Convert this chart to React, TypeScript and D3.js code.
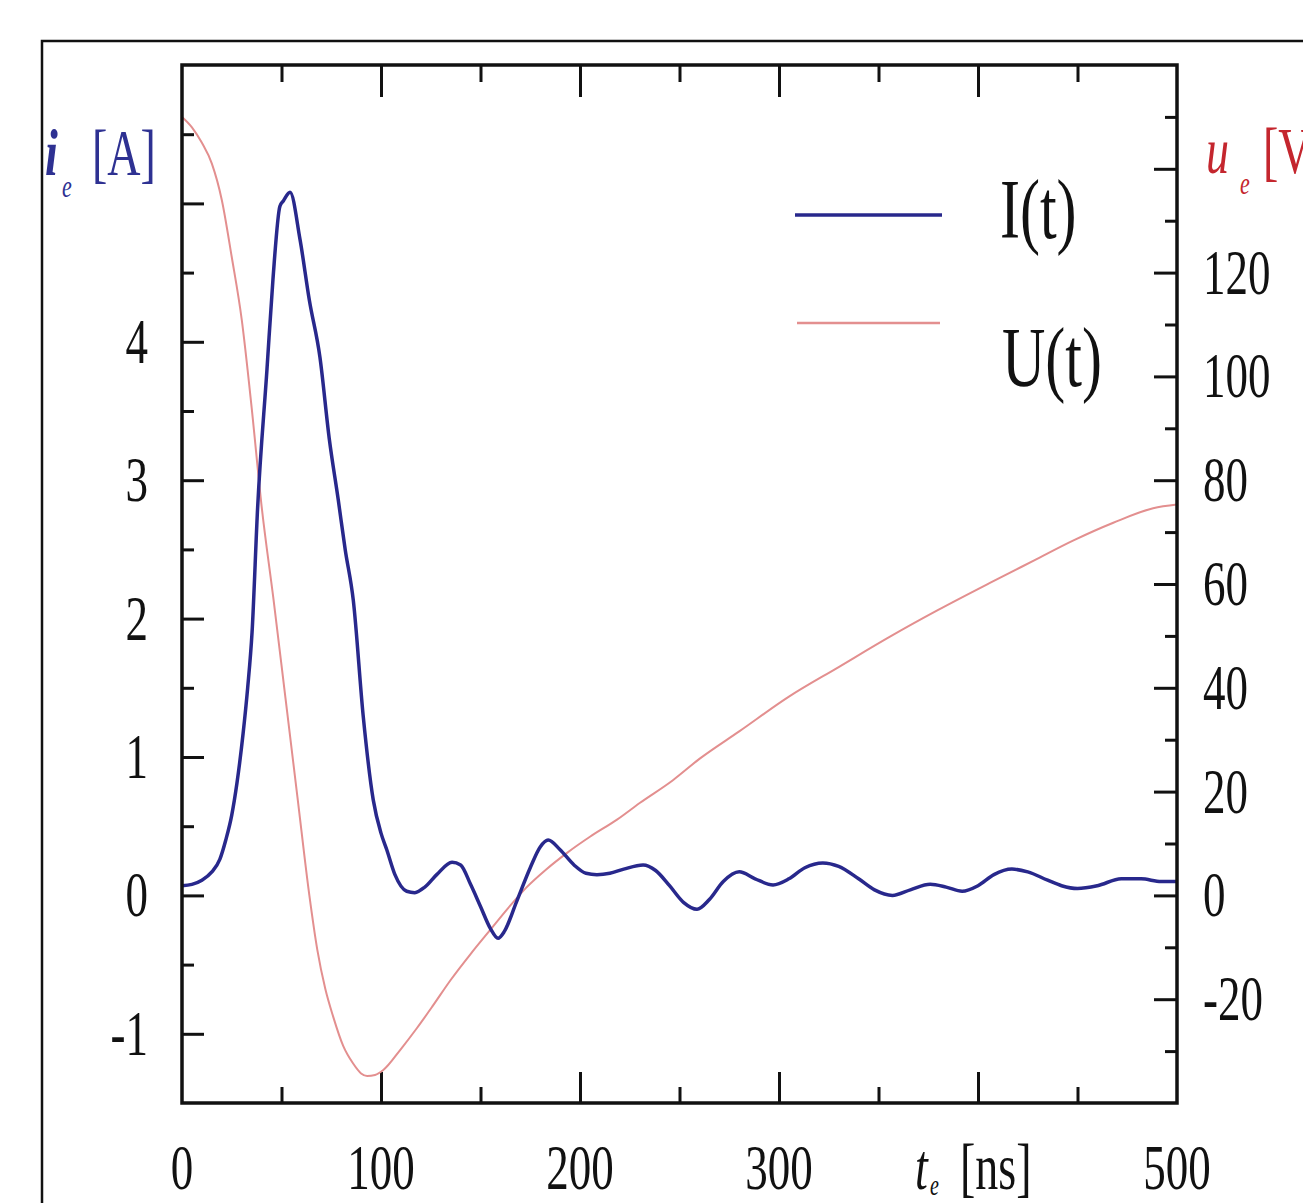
import * as d3 from 'd3';
import { useEffect, useRef } from 'react';

// current I(t) [A] vs time [ns]
const currentT = [0, 5, 10, 15, 19, 22, 25, 27.6, 30.7, 33, 35.2, 38, 42.7, 45.7, 49.2, 51, 54.3, 59.3, 64, 69.3, 74, 78.5, 82, 86.1, 91.1, 96.1, 100, 102.9, 107, 112.9, 117, 122, 128, 135.7, 140, 145, 150, 155, 158.8, 162, 168, 175, 180, 184, 190, 197, 203, 208.5, 215, 222, 231.7, 238, 245, 252, 258.8, 265, 272, 280, 288, 297, 305, 313, 322, 330, 340, 348, 357, 366, 376, 384, 392, 400, 408, 417, 425, 435, 442, 450, 460, 472, 482, 492, 500];
const currentI = [0.07, 0.08, 0.11, 0.17, 0.26, 0.4, 0.58, 0.81, 1.17, 1.5, 1.9, 2.8, 3.8, 4.45, 4.98, 5.02, 5.08, 4.74, 4.3, 3.89, 3.3, 2.86, 2.5, 2.13, 1.29, 0.69, 0.45, 0.33, 0.15, 0.03, 0.02, 0.06, 0.15, 0.24, 0.22, 0.08, -0.08, -0.24, -0.31, -0.26, -0.05, 0.2, 0.35, 0.4, 0.33, 0.22, 0.16, 0.15, 0.16, 0.19, 0.22, 0.18, 0.07, -0.05, -0.1, -0.03, 0.1, 0.17, 0.12, 0.076, 0.12, 0.2, 0.235, 0.21, 0.12, 0.04, 0.0, 0.04, 0.08, 0.06, 0.03, 0.07, 0.15, 0.19, 0.17, 0.11, 0.07, 0.05, 0.07, 0.12, 0.12, 0.1, 0.1];

// voltage U(t) [V] vs time [ns]
const voltageT = [0, 5, 10, 15, 20, 25, 30, 35, 40, 46, 52, 58, 64, 68, 72, 76, 81, 86, 90, 93, 97, 101, 110, 118, 126, 135, 145, 155, 164, 173, 183, 193.5, 205, 218.6, 230, 246.7, 260, 280, 305, 330, 356, 380, 406, 428, 448, 468, 488, 500];
const voltageU = [150, 148, 145, 141, 134, 123, 111, 94, 75, 57, 38, 19, 0, -10.5, -18, -23.4, -29, -32.4, -34.3, -34.8, -34.6, -33.7, -29.6, -25.6, -21.3, -16.3, -11.3, -6.6, -2.4, 1.5, 5, 8.2, 11.3, 14.6, 17.8, 22.2, 26.3, 31.6, 38.3, 44, 49.9, 55, 60.2, 64.5, 68.4, 71.8, 74.6, 75.3];

const xMajor = [100, 200, 300, 400];
const xMinor = [50, 150, 250, 350, 450];
const xLabels = ['0', '100', '200', '300', '500'];
const leftMajor = [-1, 0, 1, 2, 3, 4, 5];
const leftMinor = [-0.5, 0.5, 1.5, 2.5, 3.5, 4.5, 5.5];
const leftLabels = [-1, 0, 1, 2, 3, 4];
const rightMajor = [-20, 0, 20, 40, 60, 80, 100, 120, 140];
const rightMinor = [-30, -10, 10, 30, 50, 70, 90, 110, 130, 150];
const rightLabels = [-20, 0, 20, 40, 60, 80, 100, 120];

const BLUE = '#28288c';
const RED = '#e38f8f';
const FONT = '"Liberation Serif", "Times New Roman", serif';
const SY = 1.42;

const App = () => {
  const ref = useRef(null);

  useEffect(() => {
    const svg = d3.select(ref.current);
    svg.selectAll('*').remove();

    const margin = { left: 182, top: 65, right: 126, bottom: 100 };
    const w = 995;
    const h = 1038;

    const x = d3.scaleLinear().domain([0, 500]).range([margin.left, margin.left + w]);
    const yI = d3.scaleLinear().domain([-1.5, 6]).range([margin.top + h, margin.top]);
    const yU = d3.scaleLinear().domain([-40, 160]).range([margin.top + h, margin.top]);

    svg.append('rect')
      .attr('x', 42).attr('y', 41).attr('width', 1400).attr('height', 1400)
      .attr('fill', 'none').attr('stroke', '#111').attr('stroke-width', 2.5);

    const tickAxis = (axis, transform) => {
      const g = svg.append('g').attr('transform', transform).call(axis);
      g.select('.domain').remove();
      g.selectAll('line').attr('stroke', '#111').attr('stroke-width', 3);
      g.selectAll('text').remove();
    };

    const bottomY = margin.top + h;
    const rightX = margin.left + w;
    tickAxis(d3.axisBottom(x).tickValues(xMajor).tickSize(-31), `translate(0,${bottomY})`);
    tickAxis(d3.axisBottom(x).tickValues(xMinor).tickSize(-16), `translate(0,${bottomY})`);
    tickAxis(d3.axisTop(x).tickValues(xMajor).tickSize(-32), `translate(0,${margin.top})`);
    tickAxis(d3.axisTop(x).tickValues(xMinor).tickSize(-17), `translate(0,${margin.top})`);
    tickAxis(d3.axisLeft(yI).tickValues(leftMajor).tickSize(-22), `translate(${margin.left},0)`);
    tickAxis(d3.axisLeft(yI).tickValues(leftMinor).tickSize(-12), `translate(${margin.left},0)`);
    tickAxis(d3.axisRight(yU).tickValues(rightMajor).tickSize(-23), `translate(${rightX},0)`);
    tickAxis(d3.axisRight(yU).tickValues(rightMinor).tickSize(-12), `translate(${rightX},0)`);

    const lineI = d3.line()
      .x((d, i) => x(currentT[i]))
      .y((d) => yI(d))
      .curve(d3.curveMonotoneX);
    const lineU = d3.line()
      .x((d, i) => x(voltageT[i]))
      .y((d) => yU(d))
      .curve(d3.curveMonotoneX);

    svg.append('path').datum(voltageU).attr('d', lineU)
      .attr('fill', 'none').attr('stroke', RED).attr('stroke-width', 2);
    svg.append('path').datum(currentI).attr('d', lineI)
      .attr('fill', 'none').attr('stroke', BLUE).attr('stroke-width', 3.5)
      .attr('stroke-linejoin', 'round');

    svg.append('rect')
      .attr('x', margin.left).attr('y', margin.top).attr('width', w).attr('height', h)
      .attr('fill', 'none').attr('stroke', '#111').attr('stroke-width', 3.5);

    const label = (tx, ty, str, opts = {}) => {
      svg.append('text')
        .attr('transform', `translate(${tx},${ty}) scale(1,${opts.sy || SY})`)
        .attr('font-family', FONT)
        .attr('font-size', opts.size || 45)
        .attr('font-style', opts.italic ? 'italic' : 'normal')
        .attr('font-weight', opts.bold ? 'bold' : 'normal')
        .attr('text-anchor', opts.anchor || 'start')
        .attr('fill', opts.fill || '#111')
        .text(str);
    };

    leftLabels.forEach((v) => label(148, yI(v) + 21, String(v), { anchor: 'end' }));
    rightLabels.forEach((v) => label(1203, yU(v) + 21, String(v)));
    xLabels.forEach((s) => label(x(+s), 1189, s, { anchor: 'middle' }));

    // axis titles
    label(45, 175, 'i', { italic: true, bold: true, size: 46, fill: '#2e3192' });
    label(62, 197, 'e', { italic: true, size: 22, fill: '#2e3192' });
    label(92, 175, '[A]', { size: 46, fill: '#2e3192' });

    label(1206, 173, 'u', { italic: true, size: 46, fill: '#c4262e' });
    label(1240, 194, 'e', { italic: true, size: 22, fill: '#c4262e' });
    label(1263, 173, '[V]', { size: 46, fill: '#c4262e' });

    label(915, 1189, 't', { italic: true, size: 46 });
    label(930, 1195, 'e', { italic: true, size: 20 });
    label(960, 1189, '[ns]', { size: 46 });

    // legend
    svg.append('line').attr('x1', 795).attr('x2', 942).attr('y1', 215).attr('y2', 215)
      .attr('stroke', BLUE).attr('stroke-width', 3.5);
    svg.append('line').attr('x1', 797).attr('x2', 940).attr('y1', 323).attr('y2', 323)
      .attr('stroke', RED).attr('stroke-width', 2.5);
    label(1000, 238, 'I(t)', { size: 60, sy: 1.41 });
    label(1002, 386, 'U(t)', { size: 60, sy: 1.41 });
  }, []);

  return (
    <svg
      ref={ref}
      width={1303}
      height={1203}
      style={{ position: 'absolute', left: 0, top: 0, background: '#fff' }}
    ></svg>
  );
};

export default App;
